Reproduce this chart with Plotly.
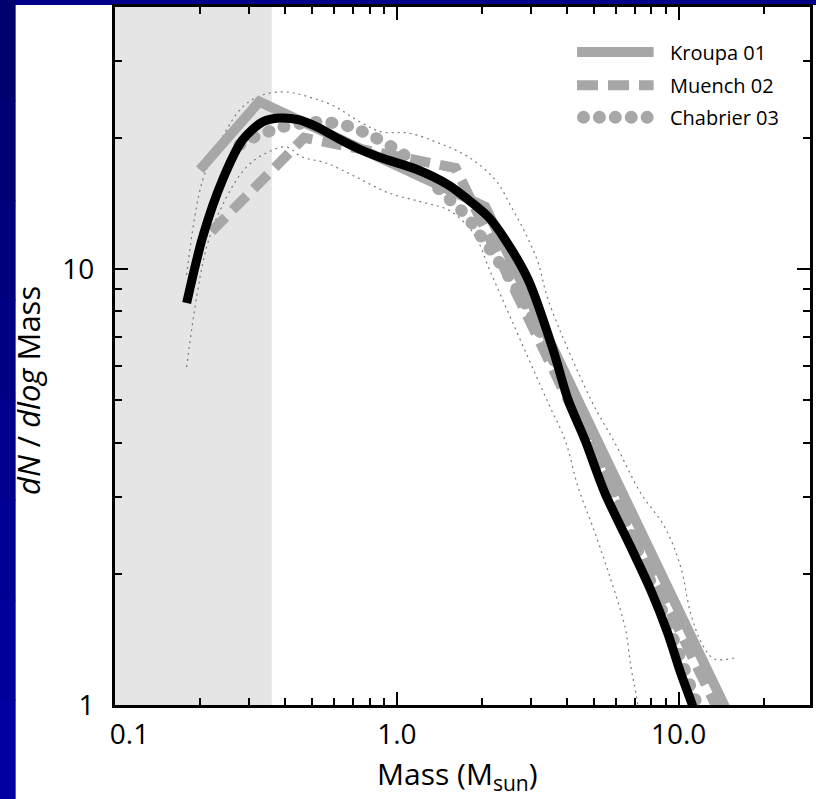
import plotly.graph_objects as go

# ---------------- data ----------------
obs_mass = [0.1796, 0.2047, 0.2407, 0.2834, 0.3334, 0.3828, 0.4504, 0.5302, 0.6237, 0.734,
            0.885, 1.167, 1.527, 1.796, 2.114, 2.428, 2.927, 3.587, 4.053, 4.654,
            5.477, 6.77, 7.96, 9.14, 10.17, 11.02, 11.5]
obs_dn = [8.36, 11.84, 16.0, 19.76, 21.74, 22.2, 21.97, 21.06, 19.87, 18.85,
          17.97, 16.96, 15.58, 14.40, 13.16, 11.66, 9.44, 6.52, 5.01, 4.05,
          3.06, 2.30, 1.835, 1.463, 1.184, 1.027, 0.95]

upper_mass = [0.1796, 0.2047, 0.2407, 0.2834, 0.3334, 0.4053, 0.4887, 0.5893, 0.752, 0.885,
              1.103, 1.407, 1.796, 2.238, 2.549, 2.856, 3.176, 3.444, 4.887, 5.94,
              7.34, 8.92, 10.17, 11.02, 12.16, 13.4, 15.77]
upper_dn = [9.69, 16.0, 20.08, 23.53, 25.07, 25.47, 24.80, 23.77, 21.62, 20.62,
            20.5, 19.45, 18.07, 16.0, 13.88, 12.09, 10.32, 8.49, 5.01, 3.99,
            3.06, 2.56, 2.073, 1.626, 1.373, 1.275, 1.282]

lower_mass = [0.1796, 0.2114, 0.2488, 0.2928, 0.3444, 0.4053, 0.4616, 0.561, 0.7163, 0.937,
              1.226, 1.527, 1.796, 1.949, 2.114, 2.35, 3.444, 3.955, 4.397, 5.05,
              5.75, 6.45, 6.77, 7.05, 7.17]
lower_dn = [5.96, 11.23, 14.63, 17.13, 18.46, 19.05, 18.07, 17.51, 16.26, 14.94,
            14.25, 13.65, 12.49, 11.53, 10.1, 8.63, 4.93, 4.05, 3.16, 2.48,
            1.935, 1.51, 1.222, 1.065, 1.0]

kroupa_mass = [0.2, 0.325, 2.06, 14.5, 15.17]
kroupa_dn = [16.9, 24.2, 13.9, 1.0, 0.94]

muench_mass = [0.22, 0.469, 1.616, 13.5, 14.1]
muench_dn = [12.2, 20.0, 17.05, 1.0, 0.945]

chabrier_mass = [0.2765, 0.307, 0.347, 0.392, 0.5217, 0.6496, 0.777, 0.975, 1.085, 1.442,
                 1.753, 2.063, 2.634, 4.222, 5.75, 7.77, 9.92, 11.67, 12.2]
chabrier_dn = [19.25, 19.97, 20.62, 21.17, 21.74, 21.39, 20.5, 18.95, 18.07, 15.02,
               13.30, 11.47, 9.09, 5.01, 3.196, 1.987, 1.337, 1.0, 0.95]

shade_range = [0.1, 0.36]

x_tickvals = [0.1, 1, 10]
x_ticktext = ["\u00a0\u00a0\u00a0\u00a00.1", "1.0", "10.0"]
y_tickvals = [1, 10]
y_ticktext = ["1", "10"]
x_minor = [0.2, 0.3, 0.4, 0.5, 0.6, 0.7, 0.8, 0.9, 2, 3, 4, 5, 6, 7, 8, 9, 20]
y_minor = [2, 3, 4, 5, 6, 7, 8, 9, 20, 30]

legend_names = ["Kroupa 01", "Muench 02", "Chabrier 03"]

# ---------------- figure ----------------
GRAY = "#a7a7a7"
FONT = "Open Sans"

fig = go.Figure()

band_style = dict(color="#7a7a7a", width=1.2, dash="2px,4px")
fig.add_trace(go.Scatter(x=upper_mass, y=upper_dn, mode="lines", line=dict(shape="spline", **band_style),
                         hoverinfo="skip", showlegend=False))
fig.add_trace(go.Scatter(x=lower_mass, y=lower_dn, mode="lines", line=dict(shape="spline", **band_style),
                         hoverinfo="skip", showlegend=False))

fig.add_trace(go.Scatter(x=kroupa_mass, y=kroupa_dn, mode="lines", name=legend_names[0],
                         line=dict(color=GRAY, width=10), showlegend=False))
fig.add_trace(go.Scatter(x=muench_mass, y=muench_dn, mode="lines", name=legend_names[1],
                         line=dict(color=GRAY, width=10, dash="20px,10px"), showlegend=False))
fig.add_trace(go.Scatter(x=chabrier_mass, y=chabrier_dn, mode="lines", name=legend_names[2],
                         line=dict(color=GRAY, width=12, dash="1px,15px", shape="spline"), showlegend=False))

fig.add_trace(go.Scatter(x=obs_mass, y=obs_dn, mode="lines",
                         line=dict(color="black", width=9, shape="spline", smoothing=0.8),
                         showlegend=False))

shapes = []
# figure white panel (over the blue frame)
shapes.append(dict(type="rect", xref="paper", yref="paper", x0=-0.1433, x1=1.05, y0=-0.3, y1=1.003,
                   fillcolor="white", line=dict(width=0), layer="below"))
# blue gradient strip on the left
blues = ["#00006e", "#000074", "#00007c", "#000084", "#00008c", "#000094", "#00009a", "#0000a0"]
n = len(blues)
for i, c in enumerate(blues):
    y_top = 1.01 - i * (1.01 + 0.135) / n
    y_bot = 1.01 - (i + 1) * (1.01 + 0.135) / n
    shapes.append(dict(type="rect", xref="paper", yref="paper", x0=-0.2, x1=-0.1433,
                       y0=y_bot - 0.002, y1=y_top, fillcolor=c, line=dict(width=0), layer="below"))
# grey shaded region
shapes.append(dict(type="rect", xref="x", yref="paper", x0=shade_range[0], x1=shade_range[1], y0=0, y1=1,
                   fillcolor="#e5e5e5", line=dict(width=0), layer="below"))

# legend samples
leg_y = [0.9355, 0.888, 0.842]
x0p, x1p = 0.6648, 0.775
shapes.append(dict(type="line", xref="paper", yref="paper", x0=x0p, x1=x1p, y0=leg_y[0], y1=leg_y[0],
                   line=dict(color=GRAY, width=10)))
shapes.append(dict(type="line", xref="paper", yref="paper", x0=x0p, x1=x1p, y0=leg_y[1], y1=leg_y[1],
                   line=dict(color=GRAY, width=10, dash="21px,10px")))
for k in range(5):
    cx = x0p + (0.0093 + k * 0.0229)
    r = 0.0093
    shapes.append(dict(type="circle", xref="paper", yref="paper", x0=cx - r, x1=cx + r,
                       y0=leg_y[2] - r, y1=leg_y[2] + r, fillcolor=GRAY, line=dict(width=0)))

annotations = []
for name, yy in zip(legend_names, leg_y):
    annotations.append(dict(xref="paper", yref="paper", x=0.795, y=yy, text=name, showarrow=False,
                            xanchor="left", yanchor="middle", font=dict(family=FONT, size=20, color="black")))
annotations.append(dict(xref="paper", yref="paper", x=0.4928, y=-0.1, text="Mass (M<sub>sun</sub>)",
                        showarrow=False, xanchor="center", yanchor="middle",
                        font=dict(family=FONT, size=30, color="black")))
annotations.append(dict(xref="paper", yref="paper", x=-0.125, y=0.45, text="<i>dN</i> / <i>dlog</i> Mass",
                        showarrow=False, xanchor="center", yanchor="middle", textangle=-90,
                        font=dict(family=FONT, size=31, color="black")))

fig.update_layout(
    width=816, height=799,
    margin=dict(l=115, r=3, t=7, b=94),
    paper_bgcolor="#000088",
    plot_bgcolor="white",
    shapes=shapes,
    annotations=annotations,
    showlegend=False,
    font=dict(family=FONT, color="black"),
)

axis_common = dict(showgrid=False, zeroline=False, showline=True, linecolor="black", linewidth=3,
                   mirror="ticks", ticks="inside", ticklen=13, tickwidth=2, tickcolor="black",
                   tickfont=dict(family=FONT, size=28, color="black"))
fig.update_xaxes(type="log", range=[-1, 1.466], tickvals=x_tickvals, ticktext=x_ticktext,
                 ticklabelstandoff=2,
                 minor=dict(ticks="inside", ticklen=7, tickwidth=2, tickcolor="black", tickvals=x_minor, showgrid=False),
                 **axis_common)
fig.update_yaxes(type="log", range=[0, 1.601], tickvals=y_tickvals, ticktext=y_ticktext,
                 ticklabelstandoff=12,
                 minor=dict(ticks="inside", ticklen=7, tickwidth=2, tickcolor="black", tickvals=y_minor, showgrid=False),
                 **axis_common)

# round line caps so the Chabrier dotted line is drawn as round dots
post = """
(function(){
  var gd = document.getElementById('{plot_id}');
  function fix(){
    var traces = gd.querySelectorAll('.scatterlayer .trace');
    if (traces.length > 4) {
      traces[4].querySelectorAll('path.js-line').forEach(function(p){
        p.style.strokeLinecap = 'round';
      });
    }
  }
  fix();
  if (gd.on) { gd.on('plotly_afterplot', fix); }
})();
"""

fig.write_html("out.html", post_script=post)
